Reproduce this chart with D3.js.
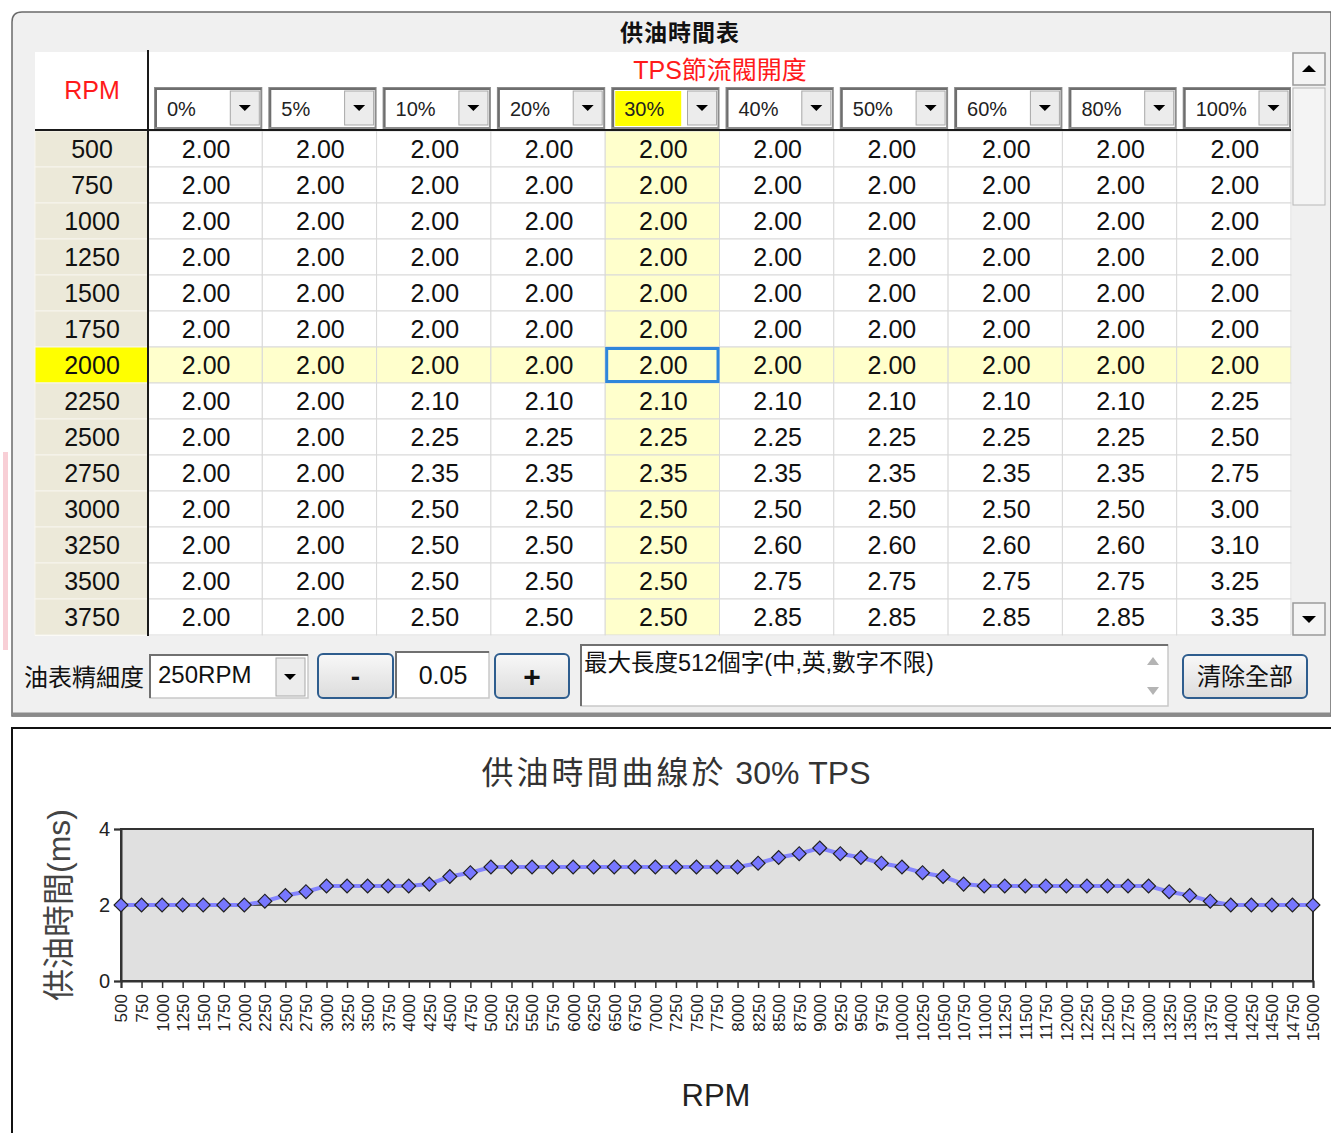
<!DOCTYPE html>
<meta charset="utf-8">
<head>
<style>
body { margin: 0; background: #fff; }
svg { display: block; font-family: "Liberation Sans", "Noto Sans CJK TC", sans-serif; }
.cell text { font-size: 25px; text-anchor: middle; fill: #111; }
.rpm text { font-size: 25px; text-anchor: middle; fill: #111; }
.tps text { font-size: 20px; fill: #222; }
.axis text { font-size: 17px; fill: #222; }
.yaxis text { font-size: 20px; fill: #222; }
.btn text { font-size: 26px; text-anchor: middle; fill: #111; }
</style>
</head>
<body>

<svg width="1331" height="1133"></svg>

<script src="https://cdn.jsdelivr.net/npm/d3@7"></script>
<script>

// table: TPS columns x RPM rows
var tpsCols = ["0%", "5%", "10%", "20%", "30%", "40%", "50%", "60%", "80%", "100%"];
var rpmRows = [500, 750, 1000, 1250, 1500, 1750, 2000, 2250, 2500, 2750, 3000, 3250, 3500, 3750];

var fuel0   = [2.00, 2.00, 2.00, 2.00, 2.00, 2.00, 2.00, 2.00, 2.00, 2.00, 2.00, 2.00, 2.00, 2.00];
var fuel5   = [2.00, 2.00, 2.00, 2.00, 2.00, 2.00, 2.00, 2.00, 2.00, 2.00, 2.00, 2.00, 2.00, 2.00];
var fuel10  = [2.00, 2.00, 2.00, 2.00, 2.00, 2.00, 2.00, 2.10, 2.25, 2.35, 2.50, 2.50, 2.50, 2.50];
var fuel20  = [2.00, 2.00, 2.00, 2.00, 2.00, 2.00, 2.00, 2.10, 2.25, 2.35, 2.50, 2.50, 2.50, 2.50];
var fuel30  = [2.00, 2.00, 2.00, 2.00, 2.00, 2.00, 2.00, 2.10, 2.25, 2.35, 2.50, 2.50, 2.50, 2.50];
var fuel40  = [2.00, 2.00, 2.00, 2.00, 2.00, 2.00, 2.00, 2.10, 2.25, 2.35, 2.50, 2.60, 2.75, 2.85];
var fuel50  = [2.00, 2.00, 2.00, 2.00, 2.00, 2.00, 2.00, 2.10, 2.25, 2.35, 2.50, 2.60, 2.75, 2.85];
var fuel60  = [2.00, 2.00, 2.00, 2.00, 2.00, 2.00, 2.00, 2.10, 2.25, 2.35, 2.50, 2.60, 2.75, 2.85];
var fuel80  = [2.00, 2.00, 2.00, 2.00, 2.00, 2.00, 2.00, 2.10, 2.25, 2.35, 2.50, 2.60, 2.75, 2.85];
var fuel100 = [2.00, 2.00, 2.00, 2.00, 2.00, 2.00, 2.00, 2.25, 2.50, 2.75, 3.00, 3.10, 3.25, 3.35];
var fuelCols = [fuel0, fuel5, fuel10, fuel20, fuel30, fuel40, fuel50, fuel60, fuel80, fuel100];

var selectedTps = "30%", selectedRpm = 2000;

// curve at 30% TPS
var chartRpm = [500, 750, 1000, 1250, 1500, 1750, 2000, 2250, 2500, 2750, 3000, 3250, 3500, 3750,
  4000, 4250, 4500, 4750, 5000, 5250, 5500, 5750, 6000, 6250, 6500, 6750, 7000, 7250, 7500, 7750,
  8000, 8250, 8500, 8750, 9000, 9250, 9500, 9750, 10000, 10250, 10500, 10750, 11000, 11250, 11500,
  11750, 12000, 12250, 12500, 12750, 13000, 13250, 13500, 13750, 14000, 14250, 14500, 14750, 15000];
var chartFuel = [2.00, 2.00, 2.00, 2.00, 2.00, 2.00, 2.00, 2.10, 2.25, 2.35, 2.50, 2.50, 2.50, 2.50,
  2.50, 2.55, 2.75, 2.85, 3.00, 3.00, 3.00, 3.00, 3.00, 3.00, 3.00, 3.00, 3.00, 3.00, 3.00, 3.00,
  3.00, 3.10, 3.25, 3.35, 3.50, 3.35, 3.25, 3.10, 3.00, 2.85, 2.75, 2.55, 2.50, 2.50, 2.50,
  2.50, 2.50, 2.50, 2.50, 2.50, 2.50, 2.35, 2.25, 2.10, 2.00, 2.00, 2.00, 2.00, 2.00];
var yTicks = [0, 2, 4];

var svg = d3.select("svg");

// ---------- top window panel ----------
svg.append("rect").attr("x", 3).attr("y", 452).attr("width", 5).attr("height", 198).attr("fill", "#f8cfd6");

svg.append("path")
    .attr("d", "M12,716 L12,22 Q12,12 22,12 L1331,12 L1331,716 Z")
    .attr("fill", "#f0f0f0")
    .attr("stroke", "#6a6a6a")
    .attr("stroke-width", 1.5);
svg.append("line").attr("x1", 12).attr("x2", 1331).attr("y1", 714).attr("y2", 714)
    .attr("stroke", "#8a8a8a").attr("stroke-width", 3);

svg.append("text")
    .attr("x", 680).attr("y", 41)
    .attr("text-anchor", "middle")
    .style("font-size", "23px").style("font-weight", "bold").style("letter-spacing", "1px")
    .attr("fill", "#111")
    .text("供油時間表");

// white grid area
svg.append("rect").attr("x", 35).attr("y", 52).attr("width", 1257).attr("height", 584).attr("fill", "#fff");

var colX = d3.scaleBand().domain(tpsCols).range([148, 1291]);
var rowY = d3.scaleBand().domain(rpmRows).range([131, 635]);

// header
svg.append("text").attr("x", 92).attr("y", 99).attr("text-anchor", "middle")
    .style("font-size", "25px").attr("fill", "#ff1a1a").text("RPM");
svg.append("text").attr("x", 720).attr("y", 79).attr("text-anchor", "middle")
    .style("font-size", "25px").attr("fill", "#ff1a1a").text("TPS節流閥開度");

var tps = svg.append("g").selectAll(".tps")
    .data(tpsCols)
  .enter().append("g")
    .attr("class", "tps")
    .attr("transform", function(d) { return "translate(" + colX(d) + ",88)"; });

tps.append("rect")
    .attr("x", 7).attr("y", 0)
    .attr("width", colX.bandwidth() - 8).attr("height", 40)
    .attr("fill", "#fff").attr("stroke", "#8c8c8c").attr("stroke-width", 2);
tps.append("path")
    .attr("d", "M8,39 L8,1 L" + (colX.bandwidth() - 1) + ",1")
    .attr("fill", "none").attr("stroke", "#6e6e6e").attr("stroke-width", 2);
tps.filter(function(d) { return d === selectedTps; }).append("rect")
    .attr("x", 10).attr("y", 3).attr("width", 66).attr("height", 35).attr("fill", "#ffff00");
tps.append("rect")
    .attr("x", colX.bandwidth() - 32).attr("y", 3)
    .attr("width", 29).attr("height", 34)
    .attr("fill", "#ececec").attr("stroke", "#a8a8a8");
tps.append("path")
    .attr("d", function() { var c = colX.bandwidth() - 17.5; return "M" + (c - 6) + ",17 L" + (c + 6) + ",17 L" + c + ",23 Z"; })
    .attr("fill", "#000");
tps.append("text")
    .attr("x", 19).attr("y", 28)
    .text(function(d) { return d; });

// rpm column
var rpm = svg.append("g").selectAll(".rpm")
    .data(rpmRows)
  .enter().append("g")
    .attr("class", "rpm")
    .attr("transform", function(d) { return "translate(35," + rowY(d) + ")"; });
rpm.append("rect")
    .attr("width", 113).attr("height", rowY.bandwidth())
    .attr("fill", function(d) { return d === selectedRpm ? "#ffff00" : "#ece9d9"; })
    .attr("stroke", "#f7f5ee").attr("stroke-width", 1);
rpm.append("text")
    .attr("x", 57).attr("y", rowY.bandwidth() / 2)
    .attr("dy", ".36em")
    .text(function(d) { return d; });

// data cells
var cells = [];
tpsCols.forEach(function(c, i) {
  rpmRows.forEach(function(r, j) {
    cells.push({ tps: c, rpm: r, value: fuelCols[i][j] });
  });
});

var cell = svg.append("g").selectAll(".cell")
    .data(cells)
  .enter().append("g")
    .attr("class", "cell")
    .attr("transform", function(d) { return "translate(" + colX(d.tps) + "," + rowY(d.rpm) + ")"; });
cell.append("rect")
    .attr("width", colX.bandwidth()).attr("height", rowY.bandwidth())
    .attr("fill", function(d) { return (d.tps === selectedTps || d.rpm === selectedRpm) ? "#ffffcc" : "#fff"; })
    .attr("stroke", "#d9d9d9").attr("stroke-width", 1);
cell.append("text")
    .attr("x", colX.bandwidth() / 2 + 1).attr("y", rowY.bandwidth() / 2)
    .attr("dy", ".36em")
    .text(function(d) { return d3.format(".2f")(d.value); });

svg.append("rect")
    .attr("x", colX(selectedTps) + 1.5).attr("y", rowY(selectedRpm) + 1.5)
    .attr("width", colX.bandwidth() - 3).attr("height", rowY.bandwidth() - 3)
    .attr("fill", "none").attr("stroke", "#2f86db").attr("stroke-width", 3);

// header separators
svg.append("line").attr("x1", 35).attr("x2", 1291).attr("y1", 130).attr("y2", 130)
    .attr("stroke", "#1a1a1a").attr("stroke-width", 2);
svg.append("line").attr("x1", 148).attr("x2", 148).attr("y1", 50).attr("y2", 636)
    .attr("stroke", "#1a1a1a").attr("stroke-width", 2);

// scrollbar
var sb = svg.append("g").attr("transform", "translate(1292,52)");
sb.append("rect").attr("width", 35).attr("height", 584).attr("fill", "#f0f0f0");
sb.append("rect").attr("x", 1).attr("y", 36).attr("width", 32).attr("height", 117)
    .attr("fill", "#f4f4f4").attr("stroke", "#b8b8b8");
[0, 550].forEach(function(y0, k) {
  sb.append("rect").attr("x", 1).attr("y", y0 + 1).attr("width", 32).attr("height", 32)
      .attr("fill", "#f4f4f4").attr("stroke", "#9a9a9a").attr("stroke-width", 1.5);
  var cy = y0 + 17;
  sb.append("path")
      .attr("d", k === 0 ? "M10," + (cy + 3) + " L24," + (cy + 3) + " L17," + (cy - 4) + " Z"
                         : "M10," + (cy - 3) + " L24," + (cy - 3) + " L17," + (cy + 4) + " Z")
      .attr("fill", "#000");
});

// bottom controls
svg.append("text").attr("x", 24).attr("y", 686).style("font-size", "24px").attr("fill", "#111").text("油表精細度");

function sunken(x, y, w, h) {
  svg.append("rect").attr("x", x).attr("y", y).attr("width", w).attr("height", h)
      .attr("fill", "#fff").attr("stroke", "#c8c8c8").attr("stroke-width", 1.5);
  svg.append("path").attr("d", "M" + x + "," + (y + h) + " L" + x + "," + y + " L" + (x + w) + "," + y)
      .attr("fill", "none").attr("stroke", "#707070").attr("stroke-width", 2);
}

sunken(150, 655, 158, 43);
svg.append("rect").attr("x", 276).attr("y", 658).attr("width", 29).attr("height", 38)
    .attr("fill", "#ececec").attr("stroke", "#a8a8a8");
svg.append("path").attr("d", "M284,674 L296,674 L290,680 Z").attr("fill", "#000");
svg.append("text").attr("x", 158).attr("y", 683).style("font-size", "24px").attr("fill", "#111").text("250RPM");

sunken(396, 652, 93, 46);
svg.append("text").attr("x", 443).attr("y", 684).attr("text-anchor", "middle")
    .style("font-size", "25px").attr("fill", "#111").text("0.05");

var grad = svg.append("defs").append("linearGradient").attr("id", "btnGrad")
    .attr("x1", 0).attr("x2", 0).attr("y1", 0).attr("y2", 1);
grad.append("stop").attr("offset", 0).attr("stop-color", "#f8f8f8");
grad.append("stop").attr("offset", 1).attr("stop-color", "#dcdcdc");

function button(x, y, w, h, label, size) {
  var g = svg.append("g").attr("class", "btn");
  g.append("rect").attr("x", x).attr("y", y).attr("width", w).attr("height", h)
      .attr("rx", 5).attr("fill", "url(#btnGrad)").attr("stroke", "#2e5d8e").attr("stroke-width", 2);
  g.append("text").attr("x", x + w / 2).attr("y", y + h / 2).attr("dy", ".36em")
      .style("font-size", size + "px").style("font-weight", label.length === 1 ? "bold" : "normal")
      .text(label);
}
button(318, 654, 75, 44, "-", 28);
button(495, 654, 74, 44, "+", 30);
button(1183, 655, 124, 43, "清除全部", 24);

sunken(581, 645, 587, 61);
svg.append("text").attr("x", 584).attr("y", 671).style("font-size", "23.5px").attr("fill", "#111")
    .text("最大長度512個字(中,英,數字不限)");
svg.append("path").attr("d", "M1147,665 L1159,665 L1153,657 Z").attr("fill", "#b4b4b4");
svg.append("path").attr("d", "M1147,687 L1159,687 L1153,695 Z").attr("fill", "#b4b4b4");

// ---------- chart panel ----------
svg.append("path").attr("d", "M12,1133 L12,728 L1331,728")
    .attr("fill", "none").attr("stroke", "#111").attr("stroke-width", 2);

var x = d3.scalePoint().domain(chartRpm).range([121, 1313]);
var y = d3.scaleLinear().domain([0, 4]).range([981, 829]);

svg.append("text").attr("x", 676).attr("y", 784).attr("text-anchor", "middle")
    .style("font-size", "32px").attr("fill", "#333")
  .call(function(t) {
    t.append("tspan").style("letter-spacing", "3px").text("供油時間曲線於");
    t.append("tspan").text(" 30% TPS");
  });

svg.append("rect").attr("x", 121).attr("y", 829).attr("width", 1192).attr("height", 152)
    .attr("fill", "#e0e0e0");
svg.append("g").selectAll("line.grid")
    .data(yTicks.slice(1, 2))
  .enter().append("line")
    .attr("x1", 121).attr("x2", 1313)
    .attr("y1", function(d) { return y(d); }).attr("y2", function(d) { return y(d); })
    .attr("stroke", "#222").attr("stroke-width", 1.5);
svg.append("rect").attr("x", 121).attr("y", 829).attr("width", 1192).attr("height", 152)
    .attr("fill", "none").attr("stroke", "#333").attr("stroke-width", 2);

var yAxis = svg.append("g").attr("class", "yaxis")
    .attr("transform", "translate(121,0)")
    .call(d3.axisLeft(y).tickValues(yTicks).tickSize(7).tickPadding(4).tickFormat(d3.format("d")));
yAxis.select(".domain").attr("stroke", "#333").attr("stroke-width", 2);
yAxis.selectAll(".tick line").attr("stroke", "#333").attr("stroke-width", 1.5);

var xAxis = svg.append("g").attr("class", "axis")
    .attr("transform", "translate(0,981)")
    .call(d3.axisBottom(x).tickSize(7));
xAxis.select(".domain").attr("stroke", "#333").attr("stroke-width", 2);
xAxis.selectAll(".tick line").attr("stroke", "#333").attr("stroke-width", 1.5);
xAxis.selectAll(".tick text")
    .attr("transform", "rotate(-90)")
    .attr("x", -13).attr("y", 0).attr("dy", ".35em")
    .style("text-anchor", "end");

svg.append("text")
    .attr("transform", "translate(70,905) rotate(-90)")
    .attr("text-anchor", "middle")
    .style("font-size", "32px").attr("fill", "#444")
    .text("供油時間(ms)");

svg.append("text").attr("x", 716).attr("y", 1106).attr("text-anchor", "middle")
    .style("font-size", "31px").attr("fill", "#222").text("RPM");

var pts = chartRpm.map(function(r, i) { return { rpm: r, value: chartFuel[i] }; });

svg.append("path")
    .datum(pts)
    .attr("fill", "none")
    .attr("stroke", "#8484ff")
    .attr("stroke-width", 4)
    .attr("d", d3.line().x(function(d) { return x(d.rpm); }).y(function(d) { return y(d.value); }));

svg.append("g").selectAll("path.mark")
    .data(pts)
  .enter().append("path")
    .attr("class", "mark")
    .attr("transform", function(d) { return "translate(" + x(d.rpm) + "," + y(d.value) + ") rotate(45)"; })
    .attr("d", d3.symbol(d3.symbolSquare, 96))
    .attr("fill", "#7777ff")
    .attr("stroke", "#222")
    .attr("stroke-width", 1.2);

</script>
</body>
